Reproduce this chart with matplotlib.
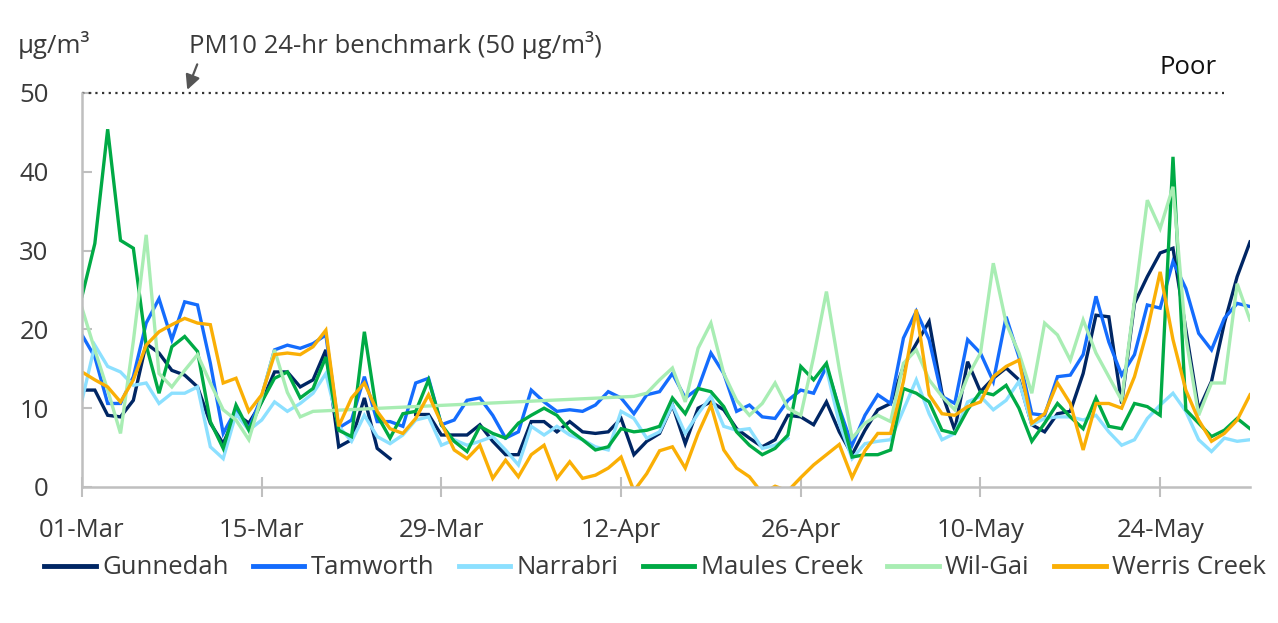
import numpy as np
import matplotlib
matplotlib.use("Agg")
import matplotlib.pyplot as plt

plt.rcParams['font.family'] = ['Open Sans', 'DejaVu Sans']

NA = None
# Daily PM10 (µg/m3), 01-Mar .. 31-May (92 days)
gunnedah = [12.3, 12.3, 9.1, 8.9, 11.0, 18.2, 17.0, 14.8, 14.2, 12.7, 8.1, 5.5, 9.3, 8.1, 10.8,
            14.6, 14.6, 12.7, 13.6, 17.4, 5.1, 6.0, 11.3, 4.9, 3.6, NA, 9.2, 9.2, 6.6, 6.6,
            6.6, 7.9, 5.8, 4.1, 4.1, 8.3, 8.3, 7.0, 8.3, 7.0, 6.8, 7.0, 8.7, 4.1, 5.8,
            6.8, 10.4, 5.5, 10.0, 10.8, 9.8, 7.4, 6.2, 5.1, 6.0, 9.1, 8.9, 7.9, 10.8, 7.0,
            4.1, 7.2, 9.8, 10.6, 15.3, 18.2, 21.0, 11.9, 7.2, 15.9, 12.1, 13.8, 15.1, 13.6, 7.9,
            7.0, 9.3, 9.6, 14.4, 21.8, 21.6, 10.6, 23.3, 26.7, 29.7, 30.3, 20.0, 9.8, 13.4, 20.8,
            26.7, 31.1]
tamworth = [19.3, 16.5, 10.6, 10.6, 14.0, 20.8, 23.9, 18.7, 23.5, 23.1, 15.7, 6.8, 9.8, 7.4, 11.5,
            17.4, 18.0, 17.6, 18.2, 19.3, 7.5, 8.5, 14.0, 8.3, 8.3, 7.7, 13.2, 13.8, 7.9, 8.5,
            11.0, 11.3, 9.1, 6.2, 7.0, 12.3, 10.8, 9.6, 9.8, 9.6, 10.4, 12.1, 11.3, 9.3, 11.7,
            12.1, 14.4, 11.3, 12.5, 17.0, 14.4, 9.6, 10.4, 8.9, 8.7, 11.0, 12.3, 11.9, 15.3, 10.0,
            5.3, 9.1, 11.7, 10.6, 18.9, 22.3, 18.7, 11.5, 10.6, 18.7, 17.0, 13.4, 21.6, 16.5, 9.3,
            9.1, 14.0, 14.2, 16.8, 24.2, 18.4, 14.2, 16.8, 23.1, 22.7, 28.6, 25.2, 19.5, 17.4, 21.4,
            23.3, 22.9]
narrabri = [11.0, 18.0, 15.3, 14.6, 12.9, 13.2, 10.6, 11.9, 11.9, 12.7, 5.1, 3.6, 9.3, 7.2, 8.5,
            10.8, 9.6, 10.6, 11.9, 14.4, 7.7, 5.8, 9.1, 6.4, 5.5, 6.6, 8.5, 8.9, 5.3, 6.0,
            5.3, 5.8, 6.4, 4.7, 2.8, 7.7, 6.6, 7.7, 6.6, 6.0, 5.1, 4.7, 9.6, 8.7, 6.2,
            7.0, 10.4, 6.8, 9.3, 11.5, 7.7, 7.2, 7.4, 4.9, 5.3, 6.2, NA, NA, 15.0, 8.1,
            3.6, 5.5, 5.8, 6.0, 9.8, 13.6, 9.3, 6.0, 6.8, 10.8, 11.5, 9.8, 11.0, 13.4, 7.9,
            8.7, 8.9, 8.9, 8.5, 9.1, 7.0, 5.3, 6.0, 8.7, 10.4, 11.9, 9.6, 6.0, 4.5, 6.2,
            5.8, 6.0]
maules_creek = [24.2, 30.9, 45.4, 31.3, 30.3, 18.0, 11.9, 17.8, 19.1, 17.2, 8.3, 4.9, 10.4, 7.2, 10.8,
                13.8, 14.6, 11.3, 12.5, 16.5, 7.2, 6.4, 19.7, 9.1, 6.2, 9.3, 9.6, 13.6, 7.9, 5.8,
                4.5, 7.7, 6.8, 6.2, 8.1, 9.1, 10.0, 9.1, 7.2, 6.0, 4.7, 5.1, 7.4, 7.0, 7.2,
                7.7, 11.3, 9.3, 12.5, 12.1, 10.2, 7.0, 5.3, 4.1, 4.9, 6.6, 15.3, 13.6, 15.7, 9.8,
                3.8, 4.1, 4.1, 4.7, 12.5, 11.9, 10.8, 7.2, 6.8, 9.8, 12.1, 11.7, 12.9, 10.0, 5.8,
                8.1, 10.6, 8.9, 7.4, 11.3, 7.7, 7.4, 10.6, 10.2, 9.1, 41.9, 9.8, 8.1, 6.4, 7.2,
                8.7, 7.4]
wil_gai = [22.7, 17.4, 12.3, 6.8, 18.5, 32.0, 14.4, 12.7, 14.8, 16.8, 13.2, 9.8, 8.5, 6.0, 11.5,
           17.4, 12.0, 8.9, 9.6, NA, NA, NA, NA, NA, NA, NA, NA, NA, NA, NA,
           NA, NA, NA, NA, NA, NA, NA, NA, NA, NA, NA, NA, NA, 11.5, 11.9,
           13.6, 15.1, 10.8, 17.6, 20.8, 14.4, 11.0, 9.1, 10.6, 13.2, 10.0, 9.1, 16.5, 24.8, 15.0,
           6.2, 8.1, 9.1, 8.3, 15.7, 17.4, 13.6, 11.5, 9.8, 14.0, 17.0, 28.4, 20.8, 17.0, 11.9,
           20.8, 19.3, 16.1, 21.2, 17.0, 14.0, 11.0, 23.7, 36.4, 32.8, 38.1, 19.0, 9.1, 13.2, 13.2,
           25.8, 21.2]
werris_creek = [14.6, 13.6, 12.7, 10.8, 13.6, 18.0, 19.7, 20.6, 21.4, 20.8, 20.6, 13.2, 13.8, 9.6, 11.7,
                16.8, 17.0, 16.8, 17.8, 19.9, 7.7, 11.3, 13.2, 9.6, 7.4, 6.8, 8.7, 11.7, 8.1, 4.7,
                3.6, 5.3, 1.1, 3.4, 1.3, 4.1, 5.3, 1.1, 3.2, 1.1, 1.5, 2.4, 3.8, -0.5, 1.7,
                4.6, 5.1, 2.4, 6.8, 10.4, 4.7, 2.4, 1.3, -0.8, 0.1, -0.5, 1.2, 2.8, 4.1, 5.4,
                1.2, 4.6, 6.8, 6.8, 13.4, 22.5, 11.7, 9.3, 9.1, 10.2, 10.8, 14.0, 15.3, 16.1, 8.1,
                9.3, 13.2, 10.6, 4.7, 10.6, 10.6, 10.0, 14.0, 19.9, 27.3, 18.7, 12.3, 8.5, 5.8, 6.8,
                8.5, 11.7]

station_names = ["Gunnedah", "Tamworth", "Narrabri", "Maules Creek", "Wil-Gai", "Werris Creek"]
station_colors = ["#002664", "#146CFD", "#8CE0FF", "#00AA45", "#A8EDB3", "#FAAF05"]
connect_gaps = [False, False, False, False, True, False]

tick_labels = ["01-Mar", "15-Mar", "29-Mar", "12-Apr", "26-Apr", "10-May", "24-May"]
tick_days = [0, 14, 28, 42, 56, 70, 84]
y_ticks = [0, 10, 20, 30, 40, 50]
benchmark = 50
benchmark_days = [0, 89]

series = [gunnedah, tamworth, narrabri, maules_creek, wil_gai, werris_creek]
days = np.arange(len(gunnedah))

W, H = 1278, 623
fig = plt.figure(figsize=(W / 100, H / 100), dpi=100)
ax = fig.add_axes([82 / W, 1 - 487 / H, (1250 - 82) / W, (487 - 93) / H])

text_color = "#3A3A3A"
grey = "#BFBFBF"
fs = 18.5

for vals, name, col, conn in zip(series, station_names, station_colors, connect_gaps):
    v = np.array([np.nan if x is None else x for x in vals], dtype=float)
    if conn:
        m = np.isfinite(v)
        ax.plot(days[m], v[m], color=col, lw=2.4, label=name, solid_joinstyle='miter')
    else:
        ax.plot(days, v, color=col, lw=2.4, label=name, solid_joinstyle='miter')

ax.plot(benchmark_days, [benchmark, benchmark], color="#333333", lw=1.6,
        linestyle=(0, (1, 2)), clip_on=False)

ax.set_xlim(0, len(days) - 1)
ax.set_ylim(0, 50)
ax.set_yticks(y_ticks)
ax.set_xticks(tick_days)
ax.set_xticklabels(tick_labels)

for s in ["top", "right"]:
    ax.spines[s].set_visible(False)
for s in ["left", "bottom"]:
    ax.spines[s].set_color(grey)
    ax.spines[s].set_linewidth(1.8)

ax.tick_params(axis="y", direction="in", length=7.5, width=1.5, color=grey,
               labelsize=fs, labelcolor=text_color, pad=24)
ax.tick_params(axis="x", direction="inout", length=15, width=1.5, color=grey,
               labelsize=fs, labelcolor=text_color, pad=15)
for lab in ax.get_yticklabels():
    lab.set_horizontalalignment("right")

fig.text(18 / W, 1 - 45 / H, "μg/m³", fontsize=fs, color=text_color, va="center", ha="left")
fig.text(1160 / W, 1 - 67 / H, "Poor", fontsize=fs, color="#111111", va="center", ha="left")
ax.annotate("PM10 24-hr benchmark (50 μg/m³)", xy=(8.2, 50.4), xycoords="data",
            xytext=(189 / W, 1 - 45 / H), textcoords="figure fraction",
            fontsize=fs, color=text_color, va="center", ha="left",
            annotation_clip=False,
            arrowprops=dict(arrowstyle="-|>", color="#555555", lw=1.6,
                            shrinkA=2, shrinkB=0, mutation_scale=22,
                            relpos=(0.025, 0.0)))

leg = fig.legend(loc="center", bbox_to_anchor=(655 / W, 1 - 568 / H), ncol=6,
                 frameon=False, fontsize=fs, handlelength=2.0, handletextpad=0.25,
                 columnspacing=0.95, labelcolor=text_color)
for line in leg.get_lines():
    line.set_linewidth(3.5)

fig.savefig("out.png", dpi=100)
